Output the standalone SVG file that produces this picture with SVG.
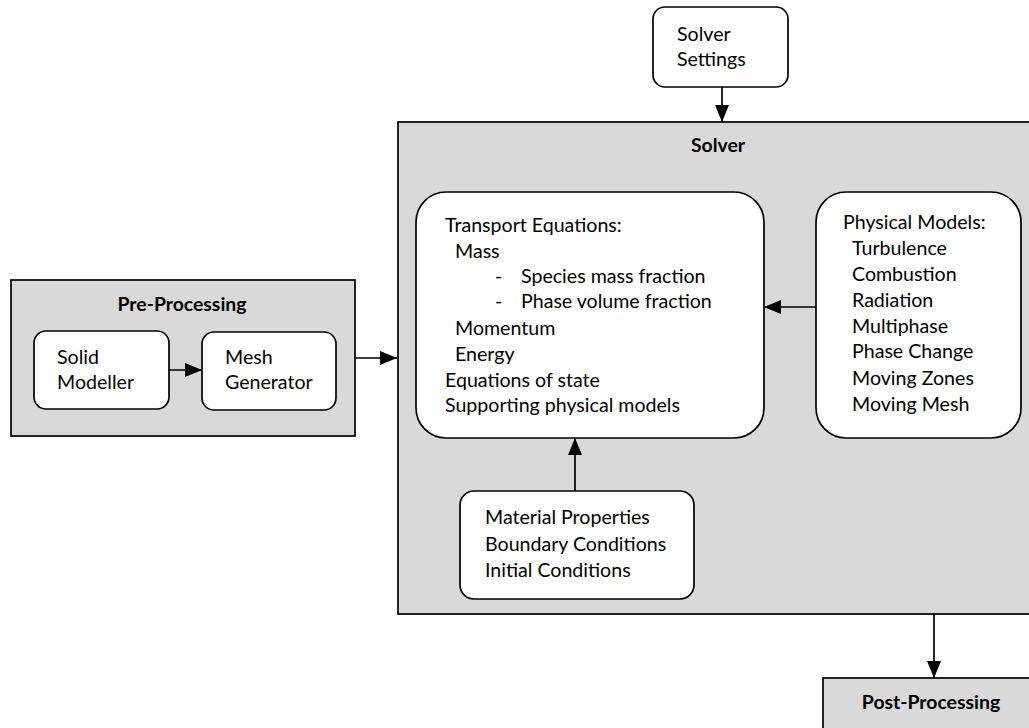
<svg xmlns="http://www.w3.org/2000/svg" width="1029" height="728" viewBox="0 0 1029 728">
  <style>
    .panel { fill: #d9d9d9; stroke: #000; stroke-width: 1.7; }
    .card { fill: #fff; stroke: #000; stroke-width: 1.7; }
    .txt { font-family: Lato, "Open Sans", sans-serif; font-size: 19.6px; fill: #000; }
    .title { font-family: Lato, "Open Sans", sans-serif; font-size: 19.4px; font-weight: bold; fill: #000; text-anchor: middle; }
    .link { fill: none; stroke: #000; stroke-width: 1.7; }
  </style>
  <defs>
    <marker id="arrow" markerUnits="userSpaceOnUse" markerWidth="18" markerHeight="14" viewBox="0 0 18 14" refX="17" refY="7" orient="auto">
      <path d="M0,0 L17,7 L0,14 Z" fill="#000"/>
    </marker>
  </defs>

  <!-- Solver container -->
  <g id="solver">
    <rect class="panel" x="398" y="122" width="645" height="492"/>
    <text class="title" x="718" y="152">Solver</text>
  </g>

  <!-- Pre-processing stage -->
  <g id="pre-processing">
    <rect class="panel" x="11" y="280" width="344" height="156"/>
    <text class="title" x="182" y="311">Pre-Processing</text>
  </g>
  <g id="solid-modeller">
    <rect class="card" x="34" y="331" width="135" height="78" rx="12"/>
    <text class="txt" x="57" y="364">Solid</text>
    <text class="txt" x="57" y="389">Modeller</text>
  </g>
  <g id="mesh-generator">
    <rect class="card" x="202" y="332" width="134" height="78" rx="12"/>
    <text class="txt" x="225" y="364">Mesh</text>
    <text class="txt" x="225" y="389">Generator</text>
  </g>

  <!-- Solver settings -->
  <g id="solver-settings">
    <rect class="card" x="653" y="7" width="135" height="80" rx="12"/>
    <text class="txt" x="677" y="41">Solver</text>
    <text class="txt" x="677" y="66">Settings</text>
  </g>

  <!-- Transport equations -->
  <g id="transport-equations">
    <rect class="card" x="416" y="192" width="348" height="246" rx="30"/>
    <text class="txt" x="445" y="232">Transport Equations:</text>
    <text class="txt" x="455" y="258">Mass</text>
    <text class="txt" x="495" y="283">-</text>
    <text class="txt" x="521" y="283">Species mass fraction</text>
    <text class="txt" x="495" y="308">-</text>
    <text class="txt" x="521" y="308">Phase volume fraction</text>
    <text class="txt" x="455" y="335">Momentum</text>
    <text class="txt" x="455" y="361">Energy</text>
    <text class="txt" x="445" y="387">Equations of state</text>
    <text class="txt" x="445" y="412">Supporting physical models</text>
  </g>

  <!-- Physical models -->
  <g id="physical-models">
    <rect class="card" x="816" y="192" width="205" height="246" rx="30"/>
    <text class="txt" x="843" y="229">Physical Models:</text>
    <text class="txt" x="852" y="255">Turbulence</text>
    <text class="txt" x="852" y="281">Combustion</text>
    <text class="txt" x="852" y="307">Radiation</text>
    <text class="txt" x="852" y="333">Multiphase</text>
    <text class="txt" x="852" y="358">Phase Change</text>
    <text class="txt" x="852" y="385">Moving Zones</text>
    <text class="txt" x="852" y="411">Moving Mesh</text>
  </g>

  <!-- Material / boundary / initial data -->
  <g id="conditions">
    <rect class="card" x="460" y="491" width="234" height="108" rx="14"/>
    <text class="txt" x="485" y="524">Material Properties</text>
    <text class="txt" x="485" y="551">Boundary Conditions</text>
    <text class="txt" x="485" y="577">Initial Conditions</text>
  </g>

  <!-- Post-processing stage -->
  <g id="post-processing">
    <rect class="panel" x="823" y="678" width="220" height="60"/>
    <text class="title" x="931" y="709">Post-Processing</text>
  </g>

  <!-- Connectors -->
  <g id="connectors">
    <line class="link" x1="169" y1="370" x2="202" y2="370" marker-end="url(#arrow)"/>
    <line class="link" x1="355" y1="358" x2="397" y2="358" marker-end="url(#arrow)"/>
    <line class="link" x1="722" y1="87" x2="722" y2="122" marker-end="url(#arrow)"/>
    <line class="link" x1="816" y1="307" x2="764" y2="307" marker-end="url(#arrow)"/>
    <line class="link" x1="575" y1="491" x2="575" y2="438" marker-end="url(#arrow)"/>
    <line class="link" x1="934" y1="614" x2="934" y2="678" marker-end="url(#arrow)"/>
  </g>
</svg>
